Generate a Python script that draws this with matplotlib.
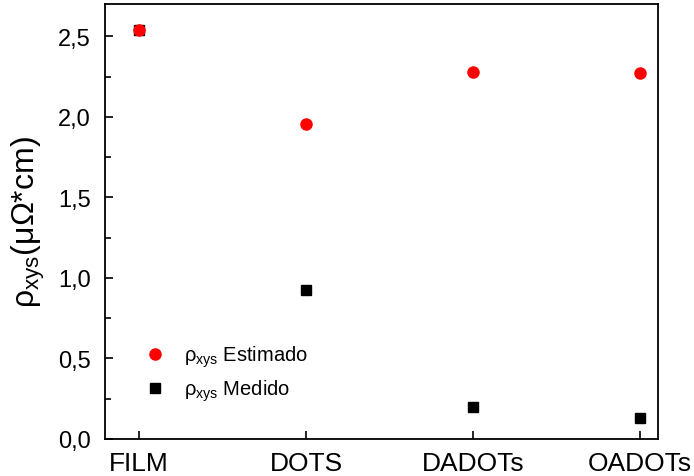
import matplotlib
matplotlib.use("Agg")
import matplotlib.pyplot as plt
from matplotlib.ticker import FixedLocator, FuncFormatter, MultipleLocator

plt.rcParams['font.family'] = ['Liberation Sans', 'DejaVu Sans']
plt.rcParams['mathtext.fontset'] = 'custom'
plt.rcParams['mathtext.rm'] = 'Liberation Sans'
plt.rcParams['mathtext.it'] = 'Liberation Sans'

samples = ["FILM", "DOTS", "DADOTs", "OADOTs"]
rho_estimado = [2.54, 1.955, 2.28, 2.27]
rho_medido = [2.54, 0.925, 0.20, 0.13]

fig = plt.figure(figsize=(6.94, 4.77), dpi=100)
ax = fig.add_axes([105/694, 37/477, (658-105)/694, (472-37)/477])

x = list(range(len(samples)))
ax.plot(x, rho_medido, 's', color='black', markersize=6.5,
        label=r'$\mathrm{\rho_{xys}}$ Medido', zorder=3)
ax.plot(x, rho_estimado, 'o', color='#ff0000', markersize=8,
        label=r'$\mathrm{\rho_{xys}}$ Estimado', zorder=4)

ax.set_xlim(-0.204, 3.108)
ax.set_ylim(0, 2.70)
ax.xaxis.set_major_locator(FixedLocator(x))
ax.set_xticklabels(samples, fontsize=19)
ax.yaxis.set_major_locator(MultipleLocator(0.5))
ax.yaxis.set_minor_locator(MultipleLocator(0.25))
ax.yaxis.set_major_formatter(FuncFormatter(lambda v, p: f"{v:.1f}".replace('.', ',')))
ax.tick_params(axis='y', labelsize=17, pad=10)
ax.tick_params(which='both', direction='in', top=False, right=False, width=1.2)
ax.tick_params(which='major', length=6)
ax.tick_params(which='minor', length=4)
ax.tick_params(axis='x', pad=9)
for s in ax.spines.values():
    s.set_linewidth(1.3)

ax.set_ylabel(r'$\mathrm{\rho_{xys}}$(μΩ*cm)', fontsize=23, labelpad=8)

handles, labels = ax.get_legend_handles_labels()
ax.legend(handles[::-1], labels[::-1], loc='lower left', bbox_to_anchor=(0.04, 0.04),
          frameon=False, fontsize=14.5, handletextpad=0.9, labelspacing=0.45,
          handlelength=1.0)

fig.savefig("out.png", dpi=100)
